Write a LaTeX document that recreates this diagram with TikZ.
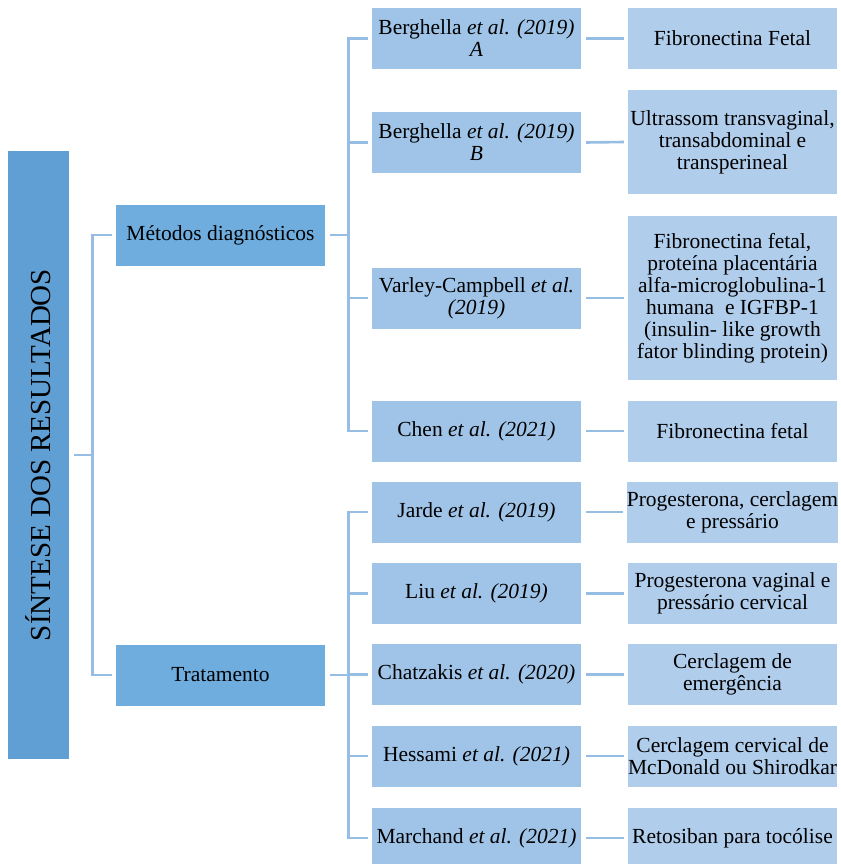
\documentclass[tikz,border=0pt]{standalone}
\usepackage{fontspec}
\setmainfont{Liberation Serif}
\usepackage{graphicx}
\usepackage{tikz}
\usetikzlibrary{positioning}
\definecolor{rootcol}{RGB}{95,159,211}
\definecolor{groupcol}{RGB}{111,173,223}
\definecolor{studycol}{RGB}{160,196,232}
\definecolor{findcol}{RGB}{176,205,235}
\definecolor{linecol}{RGB}{150,190,228}
\tikzset{
  box/.style={inner sep=0pt, minimum width=209pt, minimum height=61pt,
    align=center, font=\fontsize{21.5}{22}\selectfont},
  group/.style={box, fill=groupcol},
  study/.style={box, fill=studycol},
  find/.style={box, fill=findcol},
  link/.style={linecol, line width=2.6pt},
}

\begin{document}
\begin{tikzpicture}[x=1pt,y=-1pt]
\useasboundingbox (0,0) rectangle (840,864);

% Root
\node[fill=rootcol, inner sep=0pt, minimum width=61pt, minimum height=608pt] (root) at (38.5,455)
  {\rotatebox{90}{\fontsize{29}{30}\selectfont SÍNTESE DOS RESULTADOS}};

% Groups
\node[group] (metodos) at (220.5,235) {Métodos diagnósticos};
\node[group] (tratamento) at (220.5,675) {Tratamento};

% Studies (diagnosis)
\node[study] (bergA) at (476.5,38.5) {Berghella \textit{et al. (2019)}\\\textit{A}};
\node[study] (bergB) at (476.5,142.5) {Berghella \textit{et al. (2019)}\\\textit{B}};
\node[study] (varley) at (476.5,298) {Varley-Campbell \textit{et al.}\\\textit{(2019)}};
\node[study] (chen) at (476.5,431) {Chen \textit{et al. (2021)}};

% Studies (treatment)
\node[study] (jarde) at (476.5,512) {Jarde \textit{et al. (2019)}};
\node[study] (liu) at (476.5,593.5) {Liu \textit{et al. (2019)}};
\node[study] (chatz) at (476.5,674.5) {Chatzakis \textit{et al. (2020)}};
\node[study] (hess) at (476.5,756) {Hessami \textit{et al. (2021)}};
\node[study] (march) at (476.5,838) {Marchand \textit{et al. (2021)}};

% Findings
\node[find] (bergAf) at (732.5,38.5) {Fibronectina Fetal};
\node[find, minimum height=104pt] (bergBf) at (732.5,142) {Ultrassom transvaginal,\\transabdominal e\\transperineal};
\node[find, minimum height=164pt] (varleyf) at (732.5,298) {Fibronectina fetal,\\proteína placentária\\alfa-microglobulina-1\\humana\ \ e IGFBP-1\\(insulin- like growth\\fator blinding protein)};
\node[find] (chenf) at (732.5,431) {Fibronectina fetal};
\node[find] (jardef) at (732.5,512) {Progesterona, cerclagem\\e pressário};
\node[find] (liuf) at (732.5,593.5) {Progesterona vaginal e\\pressário cervical};
\node[find] (chatzf) at (732.5,674.5) {Cerclagem de\\emergência};
\node[find] (hessf) at (732.5,756) {Cerclagem cervical de\\McDonald ou Shirodkar};
\node[find] (marchf) at (732.5,838) {Retosiban para tocólise};

% Root to groups
\draw[link] ([xshift=5pt]root.east) -- ++(18,0) coordinate (r0);
\draw[link] ([xshift=-4pt]metodos.west) -| (r0) |- ([xshift=-4pt]tratamento.west);

% Diagnosis branch
\draw[link] ([xshift=5pt]metodos.east) -- ++(18,0) coordinate (m0);
\draw[link] ([xshift=-4pt]bergA.west) -| (m0) |- ([xshift=-4pt]chen.west);
\foreach \s in {bergB,varley}
  \draw[link] (m0 |- \s.west) -- ([xshift=-4pt]\s.west);

% Treatment branch
\draw[link] ([xshift=5pt]tratamento.east) -- ++(18,0) coordinate (t0);
\draw[link] ([xshift=-4pt]jarde.west) -| (t0) |- ([xshift=-4pt]march.west);
\foreach \s in {liu,chatz,hess}
  \draw[link] (t0 |- \s.west) -- ([xshift=-4pt]\s.west);

% Studies to findings
\foreach \s in {bergA,bergB,varley,chen,jarde,liu,chatz,hess,march}
  \draw[link] ([xshift=5pt]\s.east) -- ([xshift=-4pt]\s f.west);

\end{tikzpicture}
\end{document}
